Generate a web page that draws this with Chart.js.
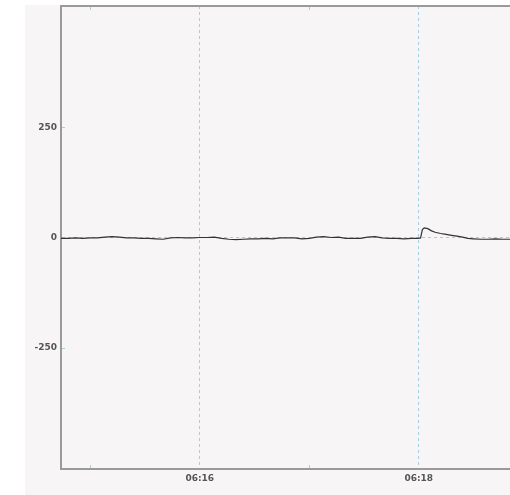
<!DOCTYPE html>
<html>
<head>
<meta charset="utf-8">
<script src="https://cdn.jsdelivr.net/npm/chart.js@4.4.1/dist/chart.umd.min.js"></script>
<style>
  html, body { margin: 0; padding: 0; background: #fff; }
  #panel { position: absolute; left: 25px; top: 5px; width: 485px; height: 490px; background: #f7f5f6; }
  canvas { display: block; }
</style>
</head>
<body>
<div id="panel"><canvas id="chart" width="485" height="490"></canvas></div>
<script>
// time in seconds after 06:00:00
const times = [884, 888, 892, 896, 900, 904, 908, 912, 916, 920, 924, 928, 932, 936, 940, 944, 948, 952, 956, 960,
    964, 968, 972, 976, 980, 984, 988, 992, 996, 1000, 1004, 1008, 1012, 1016, 1020, 1024, 1028, 1032, 1036, 1040,
    1044, 1048, 1052, 1056, 1060, 1064, 1068, 1072, 1076, 1080, 1081, 1082, 1083, 1085, 1087, 1089, 1092, 1095, 1098,
    1101, 1104, 1107, 1110, 1114, 1118, 1122, 1126, 1130];
const values = [-2, -2, -1, -2, -1, -1, 1, 2, 1, -1, -1, -2, -2, -3, -4, -1, 0, -1, -1, 0,
    0, 1, -2, -4, -5, -4, -3, -3, -2, -3, -1, -1, -1, -3, -2, 1, 2, 0, 1, -2,
    -2, -2, 1, 2, -1, -2, -2, -3, -2, -2, -1, 18, 22, 20, 15, 12, 9, 7, 5,
    3, 1, -2, -3, -4, -4, -3, -4, -4];

const xTickValues = [960, 1080];
const xTickLabels = ['06:16', '06:18'];
const xMinorValues = [900, 1020];
const yTickValues = [-250, 0, 250];
const yTickLabels = ['-250', '0', '250'];

const gridBlue = '#a9cce2';
const axisGrey = '#9a9a9a';

// small tick marks inside the plot + top border
const marksPlugin = {
    id: 'marks',
    afterDraw(chart) {
        const ctx = chart.ctx;
        const area = chart.chartArea;
        const xs = chart.scales.x;
        const ys = chart.scales.y;
        ctx.save();
        ctx.strokeStyle = gridBlue;
        ctx.lineWidth = 1;
        xMinorValues.forEach(v => {
            const px = Math.round(xs.getPixelForValue(v)) + 0.5;
            ctx.beginPath();
            ctx.moveTo(px, area.top + 1);
            ctx.lineTo(px, area.top + 4);
            ctx.moveTo(px, area.bottom - 4);
            ctx.lineTo(px, area.bottom - 1);
            ctx.stroke();
        });
        yTickValues.forEach(v => {
            if (v === 0) return;
            const py = Math.round(ys.getPixelForValue(v)) + 0.5;
            ctx.beginPath();
            ctx.moveTo(area.left + 1, py);
            ctx.lineTo(area.left + 4, py);
            ctx.stroke();
        });
        ctx.strokeStyle = axisGrey;
        ctx.lineWidth = 2;
        ctx.beginPath();
        ctx.moveTo(area.left - 1, area.top);
        ctx.lineTo(area.right, area.top);
        ctx.stroke();
        ctx.restore();
    }
};

const tickFont = { family: 'DejaVu Sans', size: 9, weight: 'bold' };

new Chart(document.getElementById('chart').getContext('2d'), {
    type: 'line',
    data: {
        datasets: [{
            data: times.map((t, i) => ({ x: t, y: values[i] })),
            borderColor: '#333333',
            borderWidth: 1.2,
            pointRadius: 0,
            tension: 0,
            fill: false
        }]
    },
    options: {
        responsive: false,
        devicePixelRatio: 1,
        animation: false,
        layout: { padding: { top: 1, right: 0, left: 0, bottom: 0 } },
        plugins: {
            legend: { display: false },
            tooltip: { enabled: false }
        },
        scales: {
            x: {
                type: 'linear',
                min: 884,
                max: 1130,
                afterBuildTicks: scale => { scale.ticks = xTickValues.map(v => ({ value: v })); },
                afterFit: scale => {
                    scale.height = 26;
                    scale.paddingLeft = 0;
                    scale.paddingRight = 0;
                },
                ticks: {
                    autoSkip: false,
                    maxRotation: 0,
                    padding: 4,
                    color: '#555',
                    font: tickFont,
                    callback: (v) => xTickLabels[xTickValues.indexOf(v)]
                },
                grid: {
                    color: gridBlue,
                    lineWidth: 1,
                    drawTicks: false
                },
                border: { color: axisGrey, width: 2, dash: [3, 3] }
            },
            y: {
                type: 'linear',
                min: -525,
                max: 525,
                afterBuildTicks: scale => { scale.ticks = yTickValues.map(v => ({ value: v })); },
                afterFit: scale => {
                    scale.width = 36;
                    scale.paddingTop = 0;
                    scale.paddingBottom = 0;
                },
                ticks: {
                    padding: 4,
                    color: '#555',
                    font: tickFont,
                    callback: (v) => yTickLabels[yTickValues.indexOf(v)]
                },
                grid: {
                    color: c => (c.tick && c.tick.value === 0) ? gridBlue : 'rgba(0,0,0,0)',
                    lineWidth: 1,
                    drawTicks: false
                },
                border: { color: axisGrey, width: 2, dash: [3, 3] }
            }
        }
    },
    plugins: [marksPlugin]
});
</script>
</body>
</html>
